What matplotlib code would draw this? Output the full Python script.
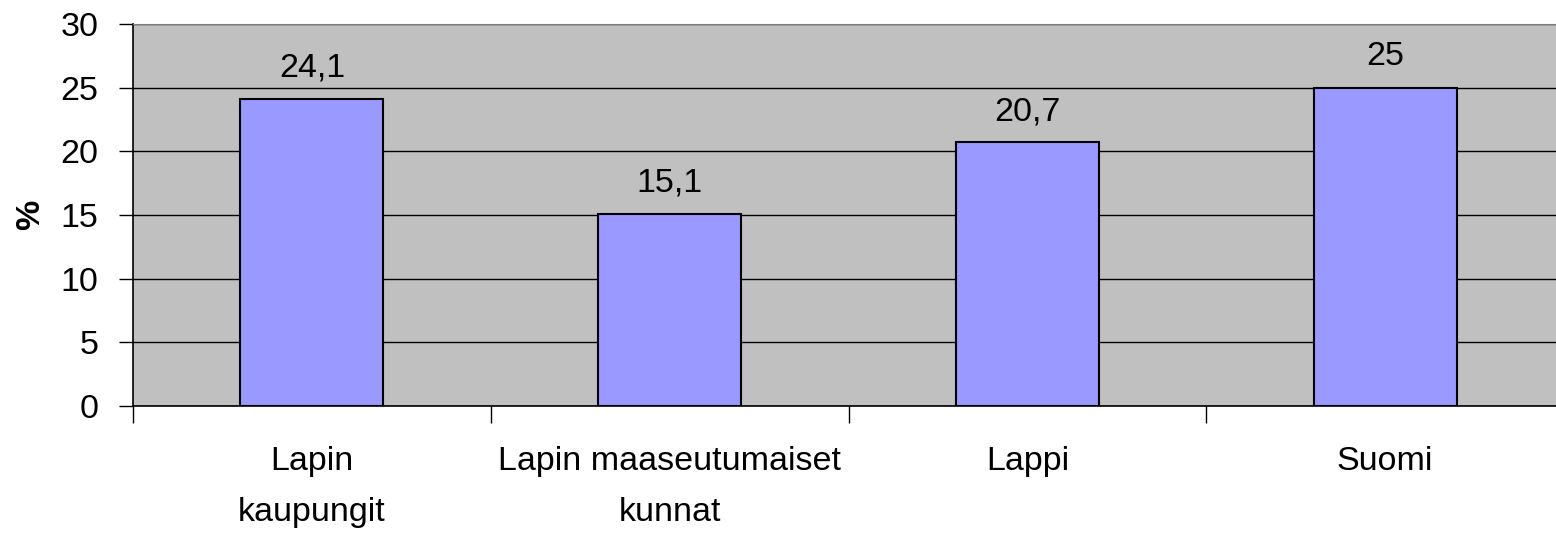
import numpy as np
import matplotlib
matplotlib.use('Agg')
import matplotlib.pyplot as plt

plt.rcParams['font.family'] = ['Liberation Sans', 'DejaVu Sans']

categories = ['Lapin\nkaupungit', 'Lapin maaseutumaiset\nkunnat', 'Lappi', 'Suomi']
values = [24.1, 15.1, 20.7, 25]
value_labels = ['24,1', '15,1', '20,7', '25']
yticks = [0, 5, 10, 15, 20, 25, 30]

fs = 24.5

fig = plt.figure(figsize=(15.56, 5.37), dpi=100)
# plot area runs a bit past the right edge of the picture, like the original
ax = fig.add_axes([133/1556, 1-406/537, 1431/1556, 382/537])
ax.set_facecolor('#c0c0c0')

x = np.arange(len(categories))
ax.bar(x, values, width=0.4, color='#9999ff', edgecolor='black', linewidth=1.5, zorder=3)

for xi, v, lab in zip(x, values, value_labels):
    ax.annotate(lab, (xi, v), xytext=(0, 11), textcoords='offset points',
                ha='center', va='bottom', fontsize=fs)

ax.set_ylim(0, 30)
ax.set_xlim(-0.5, len(categories)-0.5)
ax.set_yticks(yticks)
ax.set_yticklabels([str(t) for t in yticks], fontsize=fs)
ax.yaxis.grid(True, color='black', linewidth=1, zorder=1)
ax.set_axisbelow(True)

# category labels centred, tick marks between categories
ax.set_xticks(x)
ax.set_xticklabels(categories, fontsize=fs, linespacing=1.83)
ax.tick_params(axis='x', length=0, pad=29)
ax.set_xticks(np.arange(len(categories)+1)-0.5, minor=True)
ax.tick_params(axis='x', which='minor', length=12, width=1, color='black')
ax.tick_params(axis='y', length=10, width=1, pad=15, color='black')

ax.set_ylabel('%', fontsize=fs, fontweight='bold', labelpad=10)

ax.spines['top'].set_color('#808080')
ax.spines['right'].set_visible(False)
ax.spines['left'].set_linewidth(1.2)
ax.spines['bottom'].set_linewidth(1.2)

fig.savefig('out.png', dpi=100)
